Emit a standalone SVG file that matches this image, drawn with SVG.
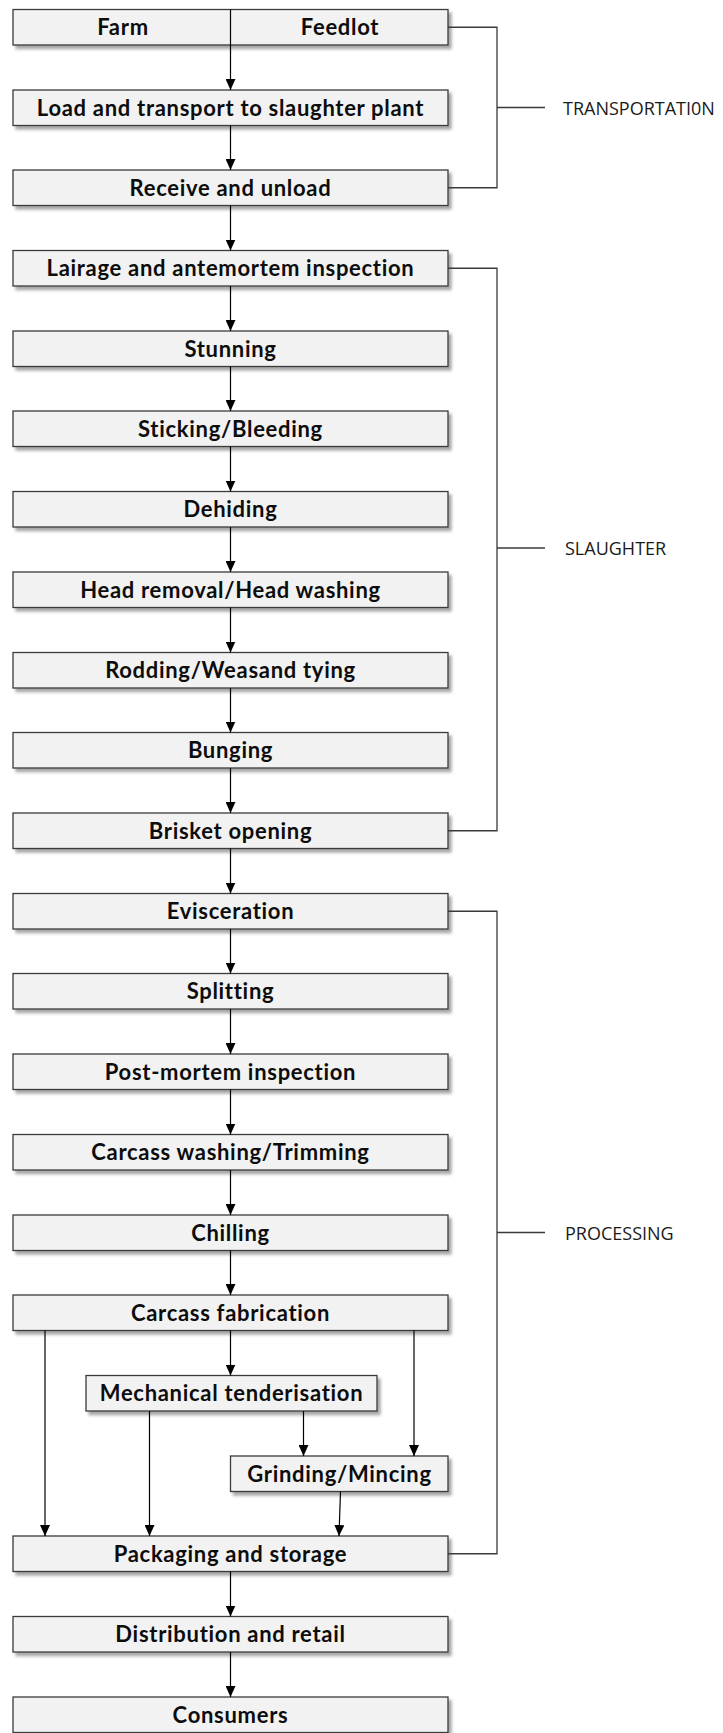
<svg xmlns="http://www.w3.org/2000/svg" width="723" height="1733" viewBox="0 0 723 1733">
<defs>
<filter id="sh" x="-5%" y="-20%" width="115%" height="160%">
<feDropShadow dx="3" dy="3.5" stdDeviation="1.8" flood-color="#000" flood-opacity="0.35"/>
</filter>
<marker id="ah" markerUnits="userSpaceOnUse" markerWidth="11" markerHeight="10" refX="11" refY="5" orient="auto" viewBox="0 0 11 10">
<path d="M0,0 L11,5 L0,10 z" fill="#000"/>
</marker>
</defs>
<style>
.box{fill:#f2f2f2;stroke:#3a3a3a;stroke-width:1.3;filter:url(#sh)}
.t{font-family:Lato,"Open Sans",sans-serif;font-weight:bold;font-size:22px;letter-spacing:0.7px;fill:#0d0d0d;text-anchor:middle}
.lab{font-family:"Open Sans","DejaVu Sans",sans-serif;font-size:18px;fill:#1a1a1a}
.c{stroke:#000;stroke-width:1.2;fill:none;marker-end:url(#ah)}
.br{stroke:#3a3a3a;stroke-width:1.3;fill:none}
</style>
<g id="nodes">
<g id="n-farm"><rect class="box" x="13" y="9.5" width="435" height="35.5"/><text class="t" x="123" y="35">Farm</text><text class="t" x="340" y="35">Feedlot</text></g>
<g id="n-load"><rect class="box" x="13" y="90" width="435" height="35.5"/><text class="t" x="230.5" y="115.5">Load and transport to slaughter plant</text></g>
<g id="n-receive"><rect class="box" x="13" y="170" width="435" height="35.5"/><text class="t" x="230.5" y="195.5">Receive and unload</text></g>
<g id="n-lairage"><rect class="box" x="13" y="250.5" width="435" height="35.5"/><text class="t" x="230.5" y="276">Lairage and antemortem inspection</text></g>
<g id="n-stunning"><rect class="box" x="13" y="331" width="435" height="35.5"/><text class="t" x="230.5" y="356.5">Stunning</text></g>
<g id="n-sticking"><rect class="box" x="13" y="411" width="435" height="35.5"/><text class="t" x="230.5" y="436.5">Sticking/Bleeding</text></g>
<g id="n-dehiding"><rect class="box" x="13" y="491.5" width="435" height="35.5"/><text class="t" x="230.5" y="517">Dehiding</text></g>
<g id="n-head"><rect class="box" x="13" y="572" width="435" height="35.5"/><text class="t" x="230.5" y="597.5">Head removal/Head washing</text></g>
<g id="n-rodding"><rect class="box" x="13" y="652.5" width="435" height="35.5"/><text class="t" x="230.5" y="678">Rodding/Weasand tying</text></g>
<g id="n-bunging"><rect class="box" x="13" y="732.5" width="435" height="35.5"/><text class="t" x="230.5" y="758">Bunging</text></g>
<g id="n-brisket"><rect class="box" x="13" y="813" width="435" height="35.5"/><text class="t" x="230.5" y="838.5">Brisket opening</text></g>
<g id="n-evisceration"><rect class="box" x="13" y="893.5" width="435" height="35.5"/><text class="t" x="230.5" y="919">Evisceration</text></g>
<g id="n-splitting"><rect class="box" x="13" y="973.5" width="435" height="35.5"/><text class="t" x="230.5" y="999">Splitting</text></g>
<g id="n-postmortem"><rect class="box" x="13" y="1054" width="435" height="35.5"/><text class="t" x="230.5" y="1079.5">Post-mortem inspection</text></g>
<g id="n-washing"><rect class="box" x="13" y="1134.5" width="435" height="35.5"/><text class="t" x="230.5" y="1160">Carcass washing/Trimming</text></g>
<g id="n-chilling"><rect class="box" x="13" y="1215" width="435" height="35.5"/><text class="t" x="230.5" y="1240.5">Chilling</text></g>
<g id="n-fabrication"><rect class="box" x="13" y="1295" width="435" height="35.5"/><text class="t" x="230.5" y="1320.5">Carcass fabrication</text></g>
<g id="n-tenderisation"><rect class="box" x="86" y="1375.5" width="291" height="35.5"/><text class="t" x="231.5" y="1401">Mechanical tenderisation</text></g>
<g id="n-grinding"><rect class="box" x="230.5" y="1456" width="217.5" height="35.5"/><text class="t" x="339.5" y="1481.5">Grinding/Mincing</text></g>
<g id="n-packaging"><rect class="box" x="13" y="1536" width="435" height="35.5"/><text class="t" x="230.5" y="1561.5">Packaging and storage</text></g>
<g id="n-distribution"><rect class="box" x="13" y="1616.5" width="435" height="35.5"/><text class="t" x="230.5" y="1642">Distribution and retail</text></g>
<g id="n-consumers"><rect class="box" x="13" y="1697" width="435" height="35.5"/><text class="t" x="230.5" y="1722.5">Consumers</text></g>
</g>
<g id="connectors">
<line class="c" x1="230.5" y1="9.5" x2="230.5" y2="90"/>
<line class="c" x1="230.5" y1="125.5" x2="230.5" y2="170"/>
<line class="c" x1="230.5" y1="205.5" x2="230.5" y2="250.5"/>
<line class="c" x1="230.5" y1="286" x2="230.5" y2="331"/>
<line class="c" x1="230.5" y1="366.5" x2="230.5" y2="411"/>
<line class="c" x1="230.5" y1="446.5" x2="230.5" y2="491.5"/>
<line class="c" x1="230.5" y1="527" x2="230.5" y2="572"/>
<line class="c" x1="230.5" y1="607.5" x2="230.5" y2="652.5"/>
<line class="c" x1="230.5" y1="688" x2="230.5" y2="732.5"/>
<line class="c" x1="230.5" y1="768" x2="230.5" y2="813"/>
<line class="c" x1="230.5" y1="848.5" x2="230.5" y2="893.5"/>
<line class="c" x1="230.5" y1="929" x2="230.5" y2="973.5"/>
<line class="c" x1="230.5" y1="1009" x2="230.5" y2="1054"/>
<line class="c" x1="230.5" y1="1089.5" x2="230.5" y2="1134.5"/>
<line class="c" x1="230.5" y1="1170" x2="230.5" y2="1215"/>
<line class="c" x1="230.5" y1="1250.5" x2="230.5" y2="1295"/>
<line class="c" x1="230.5" y1="1330.5" x2="230.5" y2="1375.5"/>
<line class="c" x1="45" y1="1330.5" x2="45" y2="1536"/>
<line class="c" x1="414" y1="1330.5" x2="414" y2="1456"/>
<line class="c" x1="149.5" y1="1411" x2="149.5" y2="1536"/>
<line class="c" x1="303.5" y1="1411" x2="303.5" y2="1456"/>
<line class="c" x1="340.5" y1="1491.5" x2="339" y2="1536"/>
<line class="c" x1="230.5" y1="1571.5" x2="230.5" y2="1616.5"/>
<line class="c" x1="230.5" y1="1652" x2="230.5" y2="1697"/>
<path class="br" d="M448,27.25 H497 V187.75 H448 M497,107.5 H545"/>
<path class="br" d="M448,268.25 H497 V830.75 H448 M497,548 H545"/>
<path class="br" d="M448,911.25 H497 V1553.75 H448 M497,1232.5 H545"/>
</g>
<g id="labels">
<text class="lab" x="563" y="115">TRANSPORTATI0N</text>
<text class="lab" x="565" y="555">SLAUGHTER</text>
<text class="lab" x="565" y="1240">PROCESSING</text>
</g>
</svg>
